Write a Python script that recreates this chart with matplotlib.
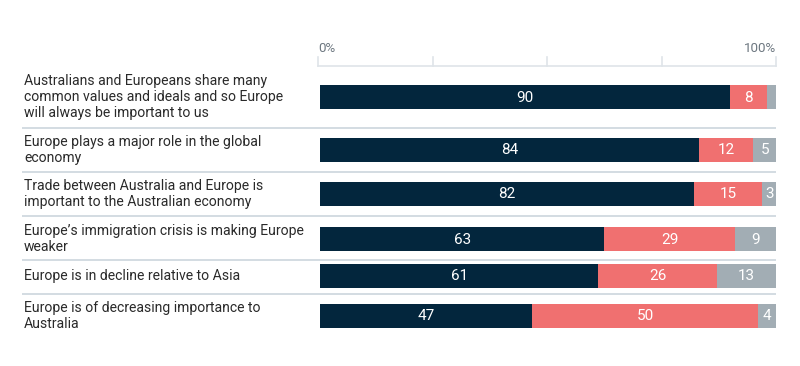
import numpy as np
import matplotlib
matplotlib.use('Agg')
from matplotlib import pyplot as plt

labels = [
    'Australians and Europeans share many\ncommon values and ideals and so Europe\nwill always be important to us',
    'Europe plays a major role in the global\neconomy',
    'Trade between Australia and Europe is\nimportant to the Australian economy',
    'Europe\u2019s immigration crisis is making Europe\nweaker',
    'Europe is in decline relative to Asia',
    'Europe is of decreasing importance to\nAustralia',
]
agree = [90, 84, 82, 63, 61, 47]
disagree = [8, 12, 15, 29, 26, 50]
neither = [2, 5, 3, 9, 13, 4]

colors = ['#03263d', '#f07070', '#a2adb4']

# layout in pixels (figure is 800x366)
W, H = 800, 366
x0, x1 = 320, 776
row_y = [97, 150, 194, 239, 276, 316]
sep_y = [128, 172, 216, 260, 294]
bar_h = 24

plt.rcParams['font.family'] = ['Roboto', 'DejaVu Sans']

fig = plt.figure(figsize=(8, 3.66), dpi=100)
ax = fig.add_axes([0, 0, 1, 1])
ax.set_xlim(0, W)
ax.set_ylim(H, 0)
ax.axis('off')

scale = (x1 - x0) / 100.0

for i, y in enumerate(row_y):
    raw = [agree[i], disagree[i], neither[i]]
    vals = np.array(raw, dtype=float)
    vals = vals / vals.sum() * 100  # rows don't always add to 100
    left = x0
    for j, v in enumerate(vals):
        w = v * scale
        ax.barh(y, w, left=left, height=bar_h, color=colors[j], edgecolor='none')
        if raw[j] >= 3:
            ax.text(left + w / 2, y + 0.5, str(raw[j]), color='white', fontsize=11,
                    ha='center', va='center')
        left += w
    ax.text(24, y, labels[i], fontsize=10.1, color='#2a2a2a', ha='left', va='center',
            linespacing=1.22)

for y in sep_y:
    ax.plot([22, x1], [y, y], color='#ccd5dd', lw=1.2, solid_capstyle='butt')

# top axis
ax.plot([318, x1], [66, 66], color='#dfe4e9', lw=1.2)
for t in range(0, 101, 25):
    xt = 318 + t * (x1 - 318) / 100
    ax.plot([xt, xt], [57, 66], color='#dfe4e9', lw=1.2)
ax.text(318, 48, '0%', fontsize=9.6, color='#6d7780', ha='left', va='center')
ax.text(x1, 48, '100%', fontsize=9.6, color='#6d7780', ha='right', va='center')

fig.savefig('out.png', dpi=100)
